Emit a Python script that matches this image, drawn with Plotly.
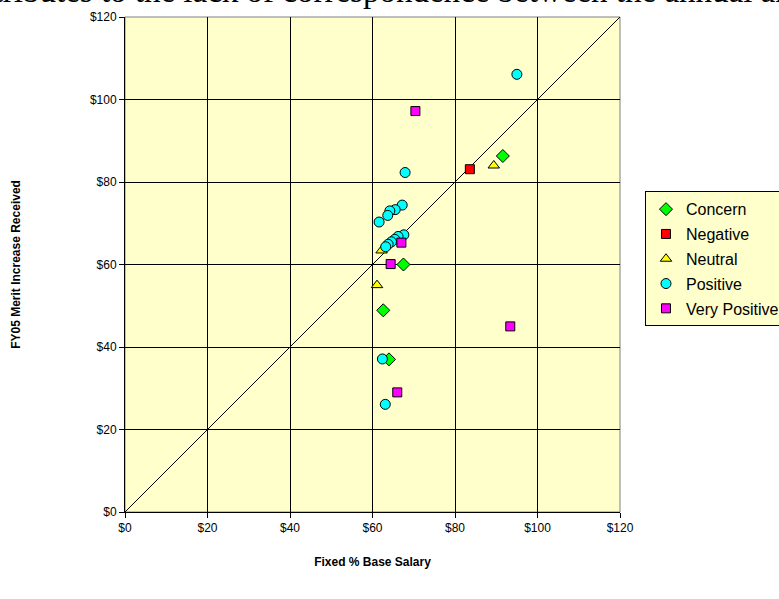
import plotly.graph_objects as go

# ---- data ----
concern_x = [91.6, 67.5, 62.6, 64.0]
concern_y = [86.3, 60.0, 48.9, 37.0]

negative_x = [83.6]
negative_y = [83.1]

neutral_x = [89.4, 61.1, 62.2]
neutral_y = [84.0, 55.0, 63.4]

positive_x = [95.0, 67.9, 67.2, 65.5, 64.2, 63.7, 61.6,
              67.6, 66.2, 65.4, 64.6, 63.8, 63.2, 62.4, 63.1]
positive_y = [106.1, 82.3, 74.4, 73.3, 73.0, 71.9, 70.3,
              67.2, 66.8, 66.1, 65.5, 64.9, 64.3, 37.1, 26.1]

very_pos_x = [70.4, 67.0, 64.4, 93.4, 66.0]
very_pos_y = [97.2, 65.3, 60.1, 45.0, 29.0]

diag = [0, 120]
ticks = [0, 20, 40, 60, 80, 100, 120]
tick_labels = ["$0", "$20", "$40", "$60", "$80", "$100", "$120"]

series = [
    ("Concern", concern_x, concern_y, "diamond", "#00FF00", 10),
    ("Negative", negative_x, negative_y, "square", "#FF0000", 9),
    ("Neutral", neutral_x, neutral_y, "triangle-up", "#FFFF00", 10),
    ("Positive", positive_x, positive_y, "circle", "#00FFFF", 10),
    ("Very Positive", very_pos_x, very_pos_y, "square", "#FF00FF", 9),
]

fig = go.Figure()

fig.add_trace(go.Scatter(x=diag, y=diag, mode="lines",
                         line=dict(color="black", width=1),
                         showlegend=False, hoverinfo="skip"))

for name, xs, ys, sym, col, sz in series:
    fig.add_trace(go.Scatter(
        x=xs, y=ys, mode="markers", name=name, legendgroup=name,
        marker=dict(symbol=sym, color=col, size=sz,
                    line=dict(color="black", width=1))))

axis_font = dict(family="Liberation Sans, Arial, sans-serif", size=12, color="black")

fig.update_xaxes(range=[0, 120], tickvals=ticks, ticktext=tick_labels,
                 showgrid=True, gridcolor="black", gridwidth=1,
                 showline=True, linecolor="black", linewidth=1,
                 ticks="outside", ticklen=5, tickcolor="black",
                 zeroline=False, tickfont=axis_font,
                 title=dict(text="<b>Fixed % Base Salary</b>",
                            font=axis_font, standoff=23))
fig.update_yaxes(range=[0, 120], tickvals=ticks, ticktext=tick_labels,
                 showgrid=True, gridcolor="black", gridwidth=1,
                 showline=True, linecolor="black", linewidth=1,
                 ticks="outside", ticklen=5, tickcolor="black",
                 zeroline=False, tickfont=axis_font,
                 title=dict(text="<b>FY05 Merit Increase Received</b>",
                            font=axis_font, standoff=66))

fig.add_shape(type="rect", xref="paper", yref="paper", x0=0, y0=0, x1=1, y1=1,
              line=dict(color="#808080", width=1), layer="below")

fig.add_annotation(text="contributes to the lack of correspondence between the annual and",
                   xref="paper", yref="paper", x=0.511, y=1.012,
                   xanchor="center", yanchor="bottom", showarrow=False,
                   font=dict(family="Liberation Serif, Times New Roman, serif",
                             size=33, color="black"))

fig.update_layout(
    width=779, height=599,
    margin=dict(l=125, r=159, t=17, b=87, autoexpand=False),
    paper_bgcolor="white", plot_bgcolor="#FFFFCC",
    showlegend=True,
    legend=dict(x=1.0505, y=0.648, xanchor="left", yanchor="top",
                bgcolor="#FFFFCC", bordercolor="black", borderwidth=1,
                font=dict(family="Liberation Sans, Arial, sans-serif", size=16, color="black"),
                traceorder="grouped", tracegroupgap=1, itemwidth=30),
    font=axis_font,
)

fig.write_html("out.html", config={"displayModeBar": False},
               post_script="document.body.style.margin='0';document.body.style.overflow='hidden';")
